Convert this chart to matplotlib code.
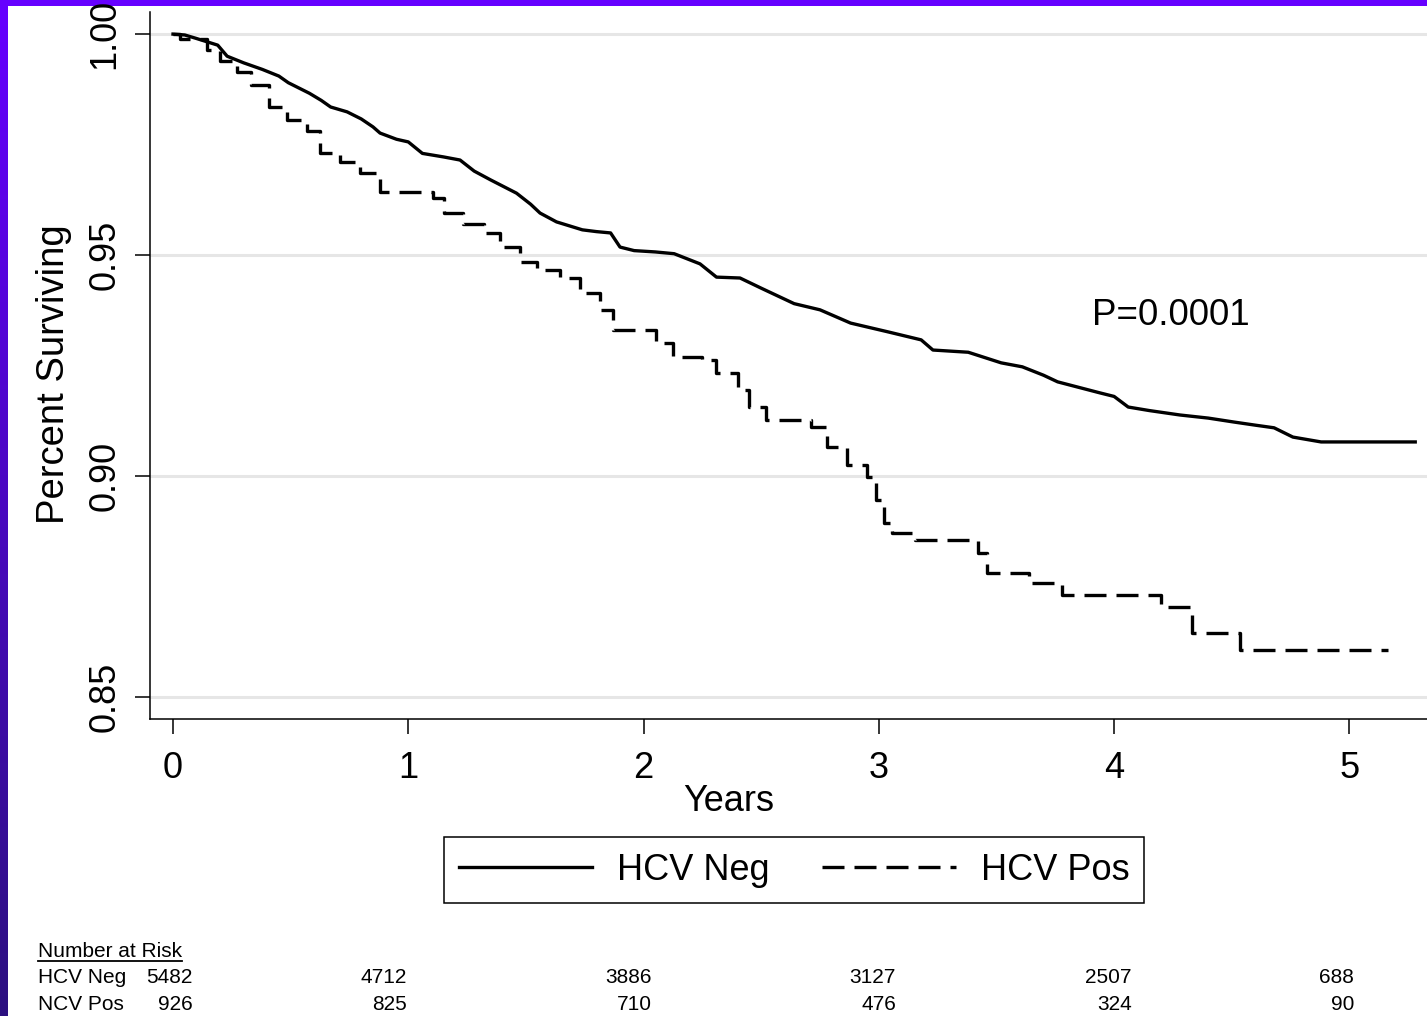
import numpy as np
import matplotlib
matplotlib.use("Agg")
import matplotlib.pyplot as plt
from matplotlib.lines import Line2D

plt.rcParams['font.family'] = ['Liberation Sans', 'DejaVu Sans']

# Kaplan-Meier curves (years, survival)
neg_t = [0.00, 0.05, 0.10, 0.19, 0.23, 0.30, 0.38, 0.45, 0.49, 0.58, 0.63, 0.67,
         0.74, 0.80, 0.85, 0.88, 0.95, 1.00, 1.06, 1.15, 1.22, 1.28, 1.35, 1.46,
         1.52, 1.56, 1.63, 1.74, 1.80, 1.86, 1.90, 1.96, 2.05, 2.13, 2.24, 2.31,
         2.41, 2.50, 2.58, 2.64, 2.75, 2.88, 3.04, 3.18, 3.23, 3.38, 3.52, 3.61,
         3.70, 3.76, 3.94, 4.00, 4.06, 4.15, 4.28, 4.40, 4.51, 4.60, 4.68, 4.76,
         4.88, 5.28]
neg_s = [1.0000, 0.9998, 0.9990, 0.9975, 0.9950, 0.9935, 0.9920, 0.9905, 0.9890,
         0.9866, 0.9850, 0.9835, 0.9824, 0.9808, 0.9790, 0.9776, 0.9762, 0.9756,
         0.9730, 0.9722, 0.9715, 0.9690, 0.9670, 0.9640, 0.9615, 0.9595, 0.9575,
         0.9557, 0.9553, 0.9550, 0.9518, 0.9510, 0.9507, 0.9503, 0.9480, 0.9450,
         0.9448, 0.9425, 0.9405, 0.9390, 0.9376, 0.9346, 0.9326, 0.9308, 0.9285,
         0.9280, 0.9256, 0.9247, 0.9228, 0.9213, 0.9188, 0.9180, 0.9156, 0.9148,
         0.9138, 0.9131, 0.9122, 0.9115, 0.9109, 0.9088, 0.9077, 0.9077]

pos_t = [0.00, 0.03, 0.145, 0.20, 0.27, 0.33, 0.41, 0.485, 0.57, 0.625, 0.71,
         0.795, 0.88, 1.105, 1.15, 1.233, 1.32, 1.39, 1.475, 1.545, 1.645, 1.73,
         1.815, 1.87, 2.055, 2.126, 2.25, 2.31, 2.40, 2.45, 2.52, 2.71, 2.78,
         2.865, 2.95, 2.99, 3.02, 3.055, 3.155, 3.42, 3.46, 3.64, 3.78, 4.20,
         4.33, 4.536, 5.166]
pos_s = [1.0000, 0.9990, 0.9964, 0.9940, 0.9914, 0.9885, 0.9835, 0.9805, 0.9780,
         0.9730, 0.9710, 0.9686, 0.9643, 0.9630, 0.9595, 0.9570, 0.9550, 0.9518,
         0.9484, 0.9466, 0.9448, 0.9414, 0.9376, 0.9330, 0.9300, 0.9270, 0.9262,
         0.9233, 0.9195, 0.9156, 0.9127, 0.9111, 0.9066, 0.9025, 0.8998, 0.8946,
         0.8894, 0.8870, 0.8855, 0.8826, 0.8780, 0.8758, 0.8730, 0.8703, 0.8645,
         0.8606, 0.8606]

x_ticks = [0, 1, 2, 3, 4, 5]
y_ticks = [0.85, 0.90, 0.95, 1.00]
y_tick_labels = ["0.85", "0.90", "0.95", "1.00"]

risk_groups = ["HCV Neg", "NCV Pos"]
risk_neg = [5482, 4712, 3886, 3127, 2507, 688]
risk_pos = [926, 825, 710, 476, 324, 90]

W, H = 1427, 1016
fig = plt.figure(figsize=(W / 100, H / 100), dpi=100)
fig.patch.set_facecolor("white")


def fx(px):
    return px / W


def fy(py):
    return 1 - py / H


# purple frame (top band + left gradient band)
top_band = fig.add_axes([0, fy(6), 1, 6 / H])
top_band.set_facecolor("#6600ff")
top_band.set_xticks([])
top_band.set_yticks([])
for s in top_band.spines.values():
    s.set_visible(False)

left_band = fig.add_axes([0, 0, fx(8), fy(6)])
c_top = np.array([0x66, 0x00, 0xff]) / 255
c_bot = np.array([0x2c, 0x10, 0x80]) / 255
grad = np.linspace(0, 1, 256)[:, None]
img = c_top[None, None, :] * (1 - grad[:, :, None]) + c_bot[None, None, :] * grad[:, :, None]
left_band.imshow(img, aspect="auto", extent=[0, 1, 0, 1])
left_band.axis("off")

ax = fig.add_axes([fx(150), fy(719), 1 - fx(150), (719 - 12) / H])

# many tiny steps in the negative group -> drawn as a continuous trace
ax.plot(neg_t, neg_s, color="black", lw=2.4, solid_joinstyle="round",
        label="HCV Neg", zorder=3)
ax.plot(pos_t, pos_s, drawstyle="steps-post", color="black", lw=2.4,
        linestyle=(0, (6.6, 3.0)), label="HCV Pos", zorder=3)

ax.set_xlim(-0.0978, 5.330)
ax.set_ylim(0.8450, 1.0050)

ax.set_xticks(x_ticks)
ax.set_xticklabels([str(v) for v in x_ticks], fontsize=26)
ax.set_yticks(y_ticks)
ax.set_yticklabels(y_tick_labels, fontsize=26, rotation=90, va="center")
ax.tick_params(axis="both", length=11, width=1.1, color="black")
ax.tick_params(axis="x", pad=12)
ax.tick_params(axis="y", pad=9)

ax.grid(axis="y", color="#e6e6e6", lw=2.2)
ax.set_axisbelow(True)
ax.spines["top"].set_visible(False)
ax.spines["right"].set_visible(False)
ax.spines["left"].set_linewidth(1.1)
ax.spines["bottom"].set_linewidth(1.1)

ax.set_xlabel("Years", fontsize=26, va="top")
ax.xaxis.set_label_coords((729 - 150) / (W - 150), -0.092)
ax.set_ylabel("Percent Surviving", fontsize=27.5, va="center")
ax.yaxis.set_label_coords(-0.075, 0.488)

ax.text(3.907, 0.9341, "P=0.0001", fontsize=26.5, va="baseline", ha="left")

leg = fig.legend(loc="center", bbox_to_anchor=(fx(794), fy(870)), ncol=2,
                 fontsize=26, handlelength=3.7, handletextpad=0.69,
                 columnspacing=1.45, borderpad=0.42, fancybox=False,
                 frameon=True, edgecolor="black", framealpha=1)
leg.get_frame().set_linewidth(1.1)

# number at risk table
risk_right = [193, 407, 652, 896, 1132, 1354]
head = fig.text(fx(38), fy(957), "Number at Risk", fontsize=15, va="baseline")
for row, (name, counts) in enumerate(zip(risk_groups, [risk_neg, risk_pos])):
    yb = fy(983 + 27 * row)
    fig.text(fx(38), yb, name, fontsize=15, va="baseline")
    for xr, n in zip(risk_right, counts):
        fig.text(fx(xr), yb, str(n), fontsize=15, va="baseline", ha="right")

fig.canvas.draw()
bb = head.get_window_extent()
fig.add_artist(Line2D([bb.x0 / W, bb.x1 / W], [fy(961), fy(961)],
                      color="black", lw=1.3, transform=fig.transFigure))

fig.savefig("out.png", dpi=100)
